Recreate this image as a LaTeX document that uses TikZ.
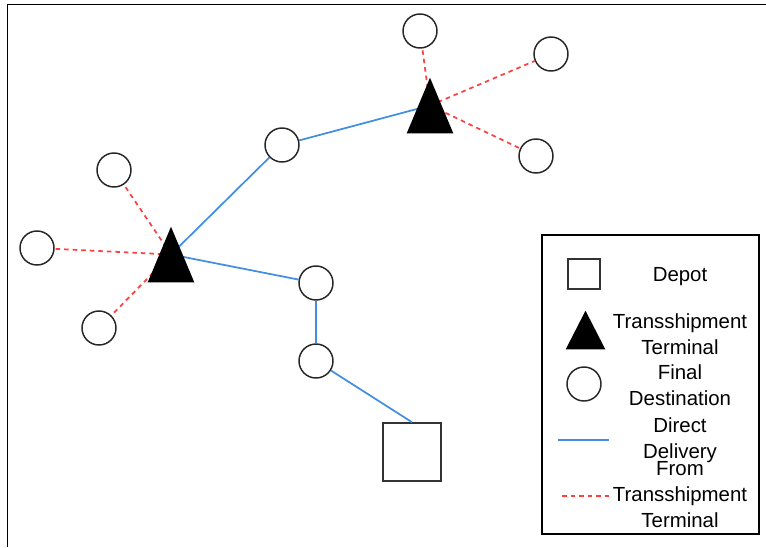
\documentclass[tikz,border=0pt]{standalone}
\usepackage{fontspec}
\setmainfont{Liberation Sans}
\definecolor{directblue}{RGB}{66,142,224}
\definecolor{hubred}{RGB}{255,64,64}
\begin{document}
\begin{tikzpicture}[x=0.75pt,y=-0.75pt,
  dest/.style={circle,draw=black!85,line width=1.1pt,fill=white,minimum size=25.5pt,inner sep=0pt},
  hubarea/.style={rectangle,minimum width=34.5pt,minimum height=41.25pt,inner sep=0pt},
  direct/.style={draw=directblue,line width=1.3pt},
  fromhub/.style={draw=hubred,line width=1.3pt,dash pattern=on 3.4pt off 3pt},
  depotbox/.style={rectangle,draw=black!80,line width=1.2pt,fill=white,inner sep=0pt},
  legtext/.style={align=center,font=\fontsize{15.3}{19.5}\selectfont,inner sep=0pt}
]
\useasboundingbox (0,0) rectangle (766,547);

% outer frame (only its left and top sides fall inside the page)
\draw[line width=1.3pt] (7.5,547) -- (7.5,4.5) -- (766,4.5);

% transshipment terminals (filled after the connectors are drawn)
\node[hubarea] (t1) at (430,105.5) {};
\node[hubarea] (t2) at (171,254.5) {};

% final destinations
\node[dest] (d1) at (420,31) {};
\node[dest] (d2) at (551,54) {};
\node[dest] (d3) at (536,156) {};
\node[dest] (d4) at (282,145) {};
\node[dest] (d5) at (114,170) {};
\node[dest] (d6) at (37,248) {};
\node[dest] (d7) at (99,328) {};
\node[dest] (d8) at (316,283) {};
\node[dest] (d9) at (316,361) {};

% depot
\node[depotbox,minimum size=43.5pt] (depot) at (412,452) {};

% direct delivery route
\draw[direct] (t2.center) -- (d4);
\draw[direct] (t2.center) -- (d8);
\draw[direct] (d8) -- (d9);
\draw[direct] (d9) -- (depot.north);
\draw[direct] (d4) -- (t1.center);

% deliveries from the terminals
\draw[fromhub] (t1.center) -- (d1);
\draw[fromhub] (t1.center) -- (d2);
\draw[fromhub] (t1.center) -- (d3);
\draw[fromhub] (t2.center) -- (d5);
\draw[fromhub] (t2.center) -- (d6);
\draw[fromhub] (t2.center) -- (d7);

% terminal triangles on top of the connector ends
\fill (t1.south west) -- (t1.north) -- (t1.south east) -- cycle;
\fill (t2.south west) -- (t2.north) -- (t2.south east) -- cycle;

% legend
\node[draw,line width=1.2pt,minimum width=162.75pt,minimum height=224.25pt,inner sep=0pt] (legendbox) at (650.5,384.5) {};
\node[depotbox,minimum width=24pt,minimum height=22.5pt] (lgdepot) at (584,274) {};
\node[legtext] (lgdepottxt) at (680,277) {Depot};
\node[hubarea,minimum width=29.25pt,minimum height=28.5pt] (lghub) at (585.5,330) {};
\fill (lghub.south west) -- (lghub.north) -- (lghub.south east) -- cycle;
\node[legtext] (lghubtxt) at (680,334) {Transshipment\\Terminal};
\node[dest] (lgdest) at (584,384) {};
\node[legtext] (lgdesttxt) at (680,385) {Final\\Destination};
\coordinate (lgdirA) at (558,440);
\coordinate (lgdirB) at (609,440);
\draw[direct] (lgdirA) -- (lgdirB);
\node[legtext] (lgdirtxt) at (680,440) {Direct\\Delivery};
\coordinate (lghubA) at (562,496);
\coordinate (lghubB) at (610,496);
\draw[fromhub] (lghubA) -- (lghubB);
\node[legtext] (lgfromtxt) at (680,495) {From\\Transshipment\\Terminal};
\end{tikzpicture}
\end{document}
